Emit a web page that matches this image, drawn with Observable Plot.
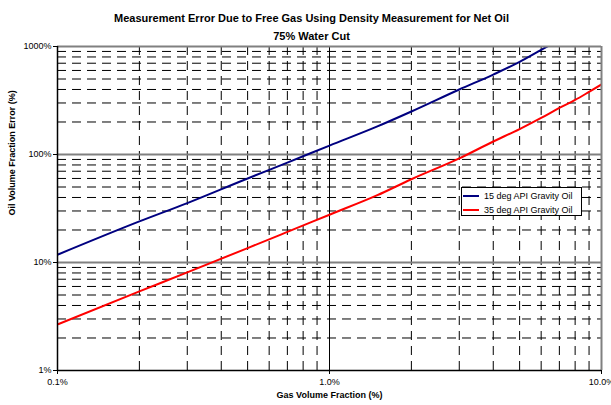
<!DOCTYPE html>
<html>
<head>
<meta charset="utf-8">
<script src="https://cdn.jsdelivr.net/npm/d3@7"></script>
<script src="https://cdn.jsdelivr.net/npm/@observablehq/plot@0.6"></script>
<style>
  body { margin: 0; background: white; }
  #wrap { position: relative; width: 611px; height: 405px; font-family: 'Liberation Sans', Arial, sans-serif; }
  #legend { position: absolute; left: 461px; top: 187px; width: 119px; height: 27px; border: 1px solid #000; background: #fff; font-size: 9px; }
  #legend .row { position: absolute; left: 1px; height: 12px; display: flex; align-items: center; }
  #legend .sw { width: 16px; height: 2px; margin-right: 5px; }
</style>
</head>
<body>
<div id="wrap"></div>
<script>
const titleLines = ["Measurement Error Due to Free Gas Using Density Measurement for Net Oil", "75% Water Cut"];
const xAxisTitle = "Gas Volume Fraction (%)";
const yAxisTitle = "Oil Volume Fraction Error (%)";

const xTicks = [0.1, 1, 10];
const xTickLabels = ["0.1%", "1.0%", "10.0%"];
const yTicks = [1, 10, 100, 1000];
const yTickLabels = ["1%", "10%", "100%", "1000%"];

const minorX = [0.2, 0.3, 0.4, 0.5, 0.6, 0.7, 0.8, 0.9, 2, 3, 4, 5, 6, 7, 8, 9];
const minorY = [2, 3, 4, 5, 6, 7, 8, 9, 20, 30, 40, 50, 60, 70, 80, 90, 200, 300, 400, 500, 600, 700, 800, 900];

const seriesNames = ["15 deg API Gravity Oil", "35 deg API Gravity Oil"];
const seriesColors = ["#000080", "#ff0000"];

const gvf15 = [0.1, 0.2, 0.3, 0.5, 0.7, 1, 1.5, 2, 3, 4, 5, 6, 6.5];
const err15 = [11.8, 24, 35.5, 60, 84, 121, 182, 250, 400, 550, 720, 930, 1040];

const gvf35 = [0.1, 0.2, 0.3, 0.5, 0.7, 1, 1.5, 2, 3, 4, 5, 6, 7, 8, 9, 10];
const err35 = [2.67, 5.4, 8.1, 13.6, 19.2, 27.7, 42, 59, 92, 132, 172, 218, 270, 320, 380, 445];

const data = [
  ...gvf15.map((x, i) => ({x, y: err15[i], s: seriesNames[0]})),
  ...gvf35.map((x, i) => ({x, y: err35[i], s: seriesNames[1]}))
];

const chart = Plot.plot({
  width: 611, height: 405,
  marginLeft: 57, marginRight: 10, marginTop: 46, marginBottom: 35,
  x: {type: "log", domain: [0.1, 10]},
  y: {type: "log", domain: [1, 1000]},
  color: {domain: seriesNames, range: seriesColors},
  style: {fontFamily: "'Liberation Sans', Arial, sans-serif", fontSize: "9px", color: "#000", background: "#fff"},
  marks: [
    Plot.ruleX(minorX, {stroke: "#000", strokeWidth: 1, strokeDasharray: "9,6"}),
    Plot.ruleY(minorY, {stroke: "#000", strokeWidth: 1, strokeDasharray: "9,6"}),
    Plot.ruleY([10, 100], {stroke: "#808080", strokeWidth: 2}),
    Plot.ruleX([1], {stroke: "#000", strokeWidth: 1}),
    Plot.lineY(data, {x: "x", y: "y", z: "s", stroke: "s", strokeWidth: 2, curve: "monotone-x", clip: true}),
    Plot.ruleY([1000], {stroke: "#808080", strokeWidth: 2}),
    Plot.ruleX([10], {stroke: "#808080", strokeWidth: 2}),
    Plot.ruleX([0.1], {stroke: "#000", strokeWidth: 1.5}),
    Plot.ruleY([1], {stroke: "#000", strokeWidth: 1.5}),
    Plot.axisX({ticks: xTicks, tickFormat: d => xTickLabels[xTicks.indexOf(d)], tickSize: 4, tickPadding: 4, label: null, stroke: "#000"}),
    Plot.axisY({ticks: yTicks, tickFormat: d => yTickLabels[yTicks.indexOf(d)], tickSize: 4, tickPadding: 2, label: null, stroke: "#000"}),
    Plot.text([titleLines[0]], {frameAnchor: "top", dx: -18, dy: -32, fontWeight: "bold", fontSize: 11}),
    Plot.text([titleLines[1]], {frameAnchor: "top", dx: -18, dy: -14, fontWeight: "bold", fontSize: 11}),
    Plot.text([xAxisTitle], {frameAnchor: "bottom", dy: 27, fontWeight: "bold", fontSize: 9}),
    Plot.text([yAxisTitle], {frameAnchor: "left", dx: -45, dy: 7, rotate: -90, fontWeight: "bold", fontSize: 9})
  ]
});

const wrap = document.getElementById("wrap");
wrap.appendChild(chart);

const legend = document.createElement("div");
legend.id = "legend";
seriesNames.forEach((name, i) => {
  const row = document.createElement("div");
  row.className = "row";
  row.style.top = (2 + i * 14) + "px";
  const sw = document.createElement("div");
  sw.className = "sw";
  sw.style.background = seriesColors[i];
  const t = document.createElement("span");
  t.textContent = name;
  row.appendChild(sw);
  row.appendChild(t);
  legend.appendChild(row);
});
wrap.appendChild(legend);
</script>
</body>
</html>
